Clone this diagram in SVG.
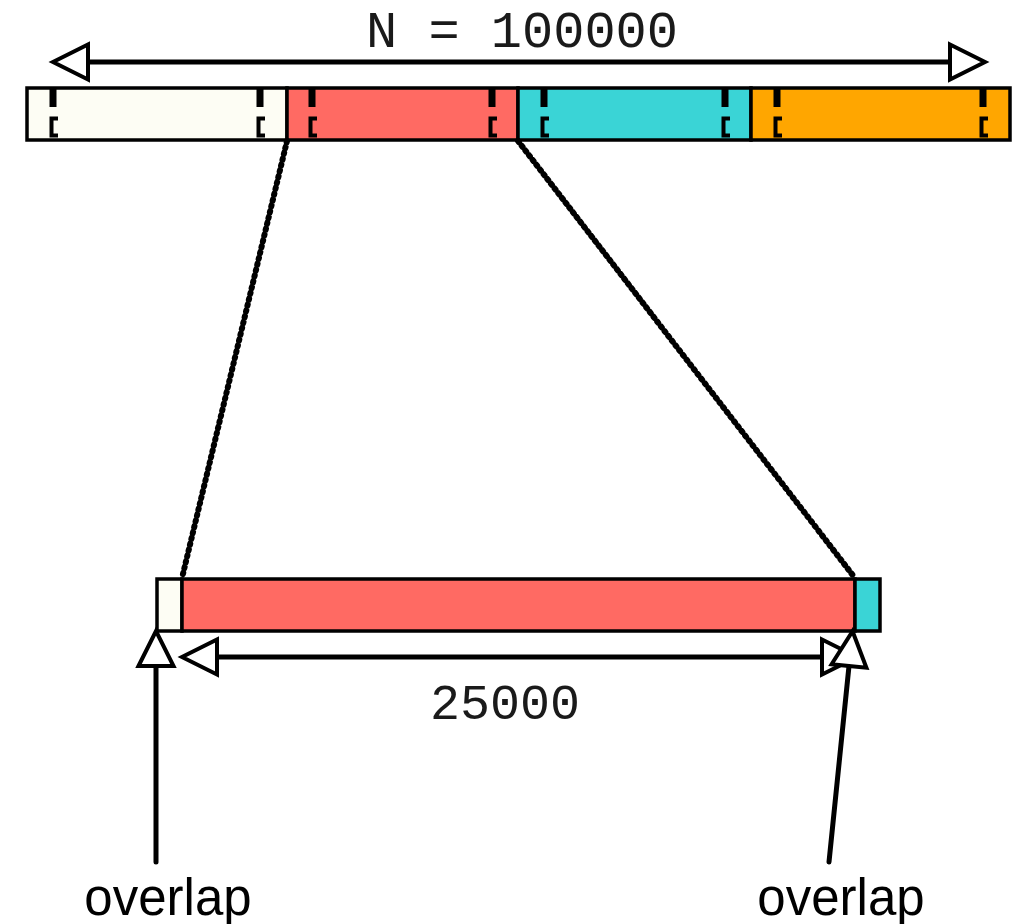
<svg xmlns="http://www.w3.org/2000/svg" xmlns:xlink="http://www.w3.org/1999/xlink" width="1023" height="924" viewBox="0 0 1023 924">
<style>
  .seg{stroke:#000;stroke-width:3.5}
  .w{fill:#fdfdf4}.r{fill:#ff6a63}.c{fill:#3ad4d6}.o{fill:#ffa600}
  .arr{stroke:#000;stroke-width:5;fill:none;stroke-linecap:round}
  .dot{stroke:#000;stroke-width:6;fill:none;stroke-linecap:round;stroke-dasharray:1.5 4.5}
  .mono{font-family:"Liberation Mono","DejaVu Sans Mono",monospace;fill:#1a1a1a}
  .sans{font-family:"Liberation Sans",Arial,sans-serif;fill:#000}
</style>
<defs>
  <marker id="head" markerUnits="userSpaceOnUse" markerWidth="46" markerHeight="46" viewBox="-5 -23 46 46" refX="0" refY="0" orient="auto-start-reverse">
    <path d="M0,-17.5 L35,0 L0,17.5 Z" fill="#fff" stroke="#000" stroke-width="4" stroke-linejoin="miter"/>
  </marker>
  <g id="tick">
    <rect x="-3.5" y="88" width="7" height="19" fill="#000"/>
    <path d="M5,118.5 H-1.5 V135.5 H5" fill="none" stroke="#000" stroke-width="4"/>
  </g>
</defs>

<g id="top-bar">
  <rect class="seg w" x="27" y="88" width="260" height="52"/>
  <rect class="seg r" x="287" y="88" width="231" height="52"/>
  <rect class="seg c" x="518" y="88" width="233" height="52"/>
  <rect class="seg o" x="751" y="88" width="259" height="52"/>
  <use xlink:href="#tick" href="#tick" x="53"/>
  <use xlink:href="#tick" href="#tick" x="260"/>
  <use xlink:href="#tick" href="#tick" x="312"/>
  <use xlink:href="#tick" href="#tick" x="492"/>
  <use xlink:href="#tick" href="#tick" x="544"/>
  <use xlink:href="#tick" href="#tick" x="725"/>
  <use xlink:href="#tick" href="#tick" x="777"/>
  <use xlink:href="#tick" href="#tick" x="983"/>
</g>

<g id="bottom-bar">
  <rect class="seg w" x="157" y="579" width="25" height="52"/>
  <rect class="seg r" x="182" y="579" width="673" height="52"/>
  <rect class="seg c" x="855" y="579" width="25" height="52"/>
</g>

<g id="label-n">
  <text class="mono" x="522" y="47" font-size="52" text-anchor="middle">N = 100000</text>
</g>
<g id="label-25000">
  <text class="mono" x="505" y="719" font-size="50" text-anchor="middle">25000</text>
</g>
<g id="label-overlap-left">
  <text class="sans" x="168" y="915" font-size="51" text-anchor="middle">overlap</text>
</g>
<g id="label-overlap-right">
  <text class="sans" x="841" y="915" font-size="51" text-anchor="middle">overlap</text>
</g>

<g id="connectors">
  <line class="dot" x1="287" y1="141" x2="182" y2="578"/>
  <line class="dot" x1="518" y1="141" x2="855" y2="578"/>
  <line class="arr" x1="88" y1="62" x2="950" y2="62" marker-start="url(#head)" marker-end="url(#head)" stroke-linecap="butt"/>
  <line class="arr" x1="217" y1="657" x2="822" y2="657" marker-start="url(#head)" marker-end="url(#head)" stroke-linecap="butt"/>
  <line class="arr" x1="156" y1="862" x2="156" y2="666" marker-end="url(#head)"/>
  <line class="arr" x1="829" y1="862" x2="849" y2="666" marker-end="url(#head)"/>
</g>
</svg>
